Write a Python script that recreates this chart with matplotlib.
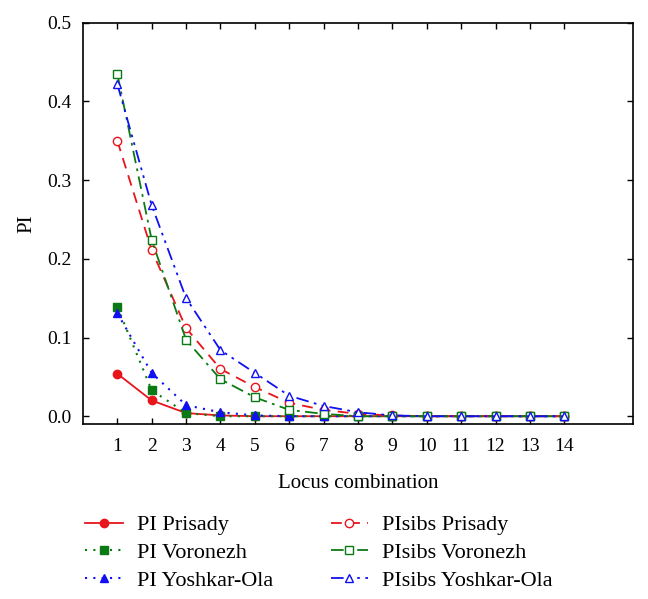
import matplotlib
matplotlib.use("Agg")
import matplotlib.pyplot as plt
import numpy as np

plt.rcParams['font.family'] = ['Liberation Serif', 'DejaVu Serif']

# locus combination
loci = [1, 2, 3, 4, 5, 6, 7, 8, 9, 10, 11, 12, 13, 14]

pi_prisady   = [0.054, 0.020, 0.004, 0.001, 0.0, 0.0, 0.0, 0.0, 0.0, 0.0, 0.0, 0.0, 0.0, 0.0]
pi_voronezh  = [0.139, 0.033, 0.004, 0.0, 0.0, 0.0, 0.0, 0.0, 0.0, 0.0, 0.0, 0.0, 0.0, 0.0]
pi_yoshkar   = [0.131, 0.055, 0.014, 0.005, 0.001, 0.0, 0.0, 0.0, 0.0, 0.0, 0.0, 0.0, 0.0, 0.0]
sib_prisady  = [0.350, 0.211, 0.112, 0.060, 0.037, 0.017, 0.008, 0.003, 0.001, 0.0, 0.0, 0.0, 0.0, 0.0]
sib_voronezh = [0.435, 0.224, 0.097, 0.047, 0.024, 0.008, 0.003, 0.0, 0.0, 0.0, 0.0, 0.0, 0.0, 0.0]
sib_yoshkar  = [0.422, 0.268, 0.150, 0.084, 0.055, 0.026, 0.013, 0.005, 0.001, 0.0, 0.0, 0.0, 0.0, 0.0]

red   = '#e8141c'
green = '#0b7a14'
blue  = '#1010f0'

fig = plt.figure(figsize=(6.48, 5.99), dpi=100)
ax = fig.add_axes([0.128, 0.292, 0.849, 0.670])

ax.plot(loci, pi_prisady, color=red, ls='-', lw=1.3, marker='o', ms=6, label='PI Prisady')
ax.plot(loci, pi_voronezh, color=green, ls=(0, (1, 3)), lw=1.5, marker='s', ms=6, label='PI Voronezh')
ax.plot(loci, pi_yoshkar, color=blue, ls=(0, (1, 3)), lw=1.5, marker='^', ms=6, label='PI Yoshkar-Ola')
ax.plot(loci, sib_prisady, color=red, ls=(0, (6, 4)), lw=1.3, marker='o', ms=6, mfc='white', label='PIsibs Prisady')
ax.plot(loci, sib_voronezh, color=green, ls=(0, (7, 3, 1.5, 3)), lw=1.3, marker='s', ms=6, mfc='white', label='PIsibs Voronezh')
ax.plot(loci, sib_yoshkar, color=blue, ls=(0, (7, 3, 1.5, 3, 1.5, 3)), lw=1.3, marker='^', ms=6, mfc='white', label='PIsibs Yoshkar-Ola')

ax.set_xlim(0, 16)
ax.set_ylim(-0.01, 0.5)
ax.set_xticks(loci)
ax.set_yticks([0.0, 0.1, 0.2, 0.3, 0.4, 0.5])
ax.set_yticklabels(['0.0', '0.1', '0.2', '0.3', '0.4', '0.5'])
ax.tick_params(direction='in', top=True, right=True, labelsize=14, length=4, width=1, pad=8)
ax.tick_params(axis='x', pad=10)
for s in ax.spines.values():
    s.set_linewidth(1.2)

ax.set_xlabel('Locus combination', fontsize=15, labelpad=14)
ax.set_ylabel('PI', fontsize=15, labelpad=8)

handles, labels = ax.get_legend_handles_labels()
fig.legend(handles, labels, loc='upper left', bbox_to_anchor=(0.101, 0.174), ncol=2,
           frameon=False, fontsize=16, handlelength=1.7, columnspacing=2.6,
           labelspacing=0.33, handletextpad=0.6)

fig.savefig('out.png', dpi=100)
